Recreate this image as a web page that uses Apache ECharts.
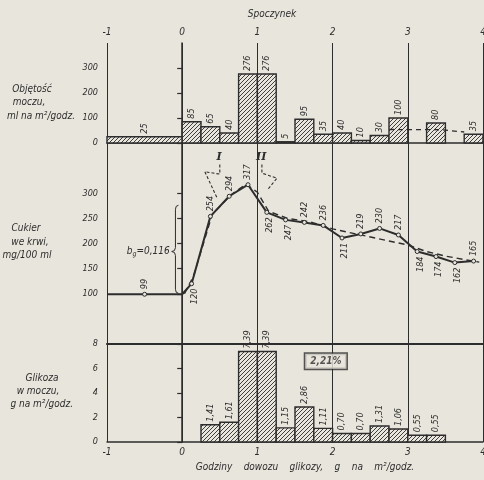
<!DOCTYPE html>
<html><head><meta charset="utf-8">
<script src="https://cdn.jsdelivr.net/npm/echarts@6/dist/echarts.min.js"></script>
<style>html,body{margin:0;padding:0;background:#e8e5dc;}#c{width:484px;height:480px;}</style>
</head><body><div id="c"></div>
<script>
// ---------------- data ----------------
const hourTicks = [-1, 0, 1, 2, 3, 4];
// urine volume, ml per m2 per hour (intervals in hours)
const urineStart = [-1, 0, 0.25, 0.5, 0.75, 1, 1.25, 1.5, 1.75, 2, 2.25, 2.5, 2.75, 3.25, 3.75];
const urineEnd   = [0, 0.25, 0.5, 0.75, 1, 1.25, 1.5, 1.75, 2, 2.25, 2.5, 2.75, 3, 3.5, 4];
const urineVolume = [25, 85, 65, 40, 276, 276, 5, 95, 35, 40, 10, 30, 100, 80, 35];
const urineMeanTimes = [2.75, 3.45, 3.75];
const urineMeanValues = [54, 53, 44];
const urineTicks = [0, 100, 200, 300];
// blood sugar, mg/100 ml
const sugarTimes  = [-1, -0.5, 0, 0.125, 0.375, 0.625, 0.875, 1.125, 1.375, 1.625, 1.875, 2.125, 2.375, 2.625, 2.875, 3.125, 3.375, 3.625, 3.875];
const sugarValues = [99, 99, 99, 120, 254, 294, 317, 262, 247, 242, 236, 211, 219, 230, 217, 184, 174, 162, 165];
const sugarMarked = [false, true, false, true, true, true, true, true, true, true, true, true, true, true, true, true, true, true, true];
const sugarLabelSide = [0, 1, 0, -1, 1, 1, 1, -1, -1, 1, 1, -1, 1, 1, 1, -1, -1, -1, 1];
const fitTimes  = [0.03, 0.15, 0.4, 0.65, 0.85, 1.0, 1.15, 1.4, 1.7, 2.0, 3.0, 3.25, 3.5, 3.75, 3.95];
const fitValues = [100, 135, 258, 297, 318, 302, 264, 250, 243, 229, 197, 184, 175, 168, 163];
const sugarTicks = [100, 150, 200, 250, 300];
// urine glucose, g per m2 per hour
const glucStart = [0.25, 0.5, 0.75, 1, 1.25, 1.5, 1.75, 2, 2.25, 2.5, 2.75, 3, 3.25];
const glucEnd   = [0.5, 0.75, 1, 1.25, 1.5, 1.75, 2, 2.25, 2.5, 2.75, 3, 3.25, 3.5];
const glucValues = [1.41, 1.61, 7.39, 7.39, 1.15, 2.86, 1.11, 0.70, 0.70, 1.31, 1.06, 0.55, 0.55];
const glucTicks = [0, 2, 4, 6, 8];
// annotations
const annoLabels = ['I', 'II'];
const annoLabelPos = [[0.49, 372], [1.05, 372]];
const arrowPaths = [
  [[0.5, 357], [0.5, 338], [0.3, 343], [0.46, 292]],
  [[1.06, 357], [1.06, 340], [1.26, 330], [1.13, 306]]
];
const braceX = -0.05, braceTipX = -0.14, braceLow = 101, braceHigh = 276, braceMid = 184;
const ratioLabel = '2,21%';
const ratioPos = [1.91, 6.6];

// ---------------- style ----------------
const ink = '#2d2d2d';
const bg = '#e8e5dc';
const FAM = "'Liberation Sans Narrow','DejaVu Sans Condensed','Liberation Sans',sans-serif";
const numFont = "italic 9px " + FAM;

const hc = document.createElement('canvas'); hc.width = 4; hc.height = 4;
const g = hc.getContext('2d');
g.fillStyle = bg; g.fillRect(0, 0, 4, 4);
g.strokeStyle = '#3f3f3f'; g.lineWidth = 1;
g.beginPath(); g.moveTo(0, 4); g.lineTo(4, 0); g.moveTo(-1, 1); g.lineTo(1, -1); g.moveTo(3, 5); g.lineTo(5, 3); g.stroke();
const hatch = {image: hc, repeat: 'repeat'};

function barRenderer(fmt) {
  return function (params, api) {
    const x0 = api.value(0), x1 = api.value(1), v = api.value(2);
    const p0 = api.coord([x0, v]), p1 = api.coord([x1, 0]);
    return {type: 'group', children: [
      {type: 'rect', shape: {x: p0[0], y: p0[1], width: p1[0] - p0[0], height: p1[1] - p0[1]},
        style: {fill: hatch, stroke: ink, lineWidth: 1.4}},
      {type: 'text', x: (p0[0] + p1[0]) / 2, y: p0[1] - 3, rotation: Math.PI / 2,
        style: {text: fmt(v), align: 'left', verticalAlign: 'middle', font: numFont, fill: ink}}
    ]};
  };
}

const urineData = urineVolume.map((v, i) => [urineStart[i], urineEnd[i], v]);
const glucData = glucValues.map((v, i) => [glucStart[i], glucEnd[i], v]);
const sugarLine = sugarTimes.map((t, i) => ({value: [t, sugarValues[i]], symbol: sugarMarked[i] ? 'circle' : 'none'}));
const sugarLabelData = sugarTimes.map((t, i) => [t, sugarValues[i], sugarLabelSide[i]]).filter(d => d[2] !== 0);
const fitLine = fitTimes.map((t, i) => [t, fitValues[i]]);
const meanLine = urineMeanTimes.map((t, i) => [t, urineMeanValues[i]]);

const xBase = {type: 'value', min: -1, max: 4, interval: 1,
  splitLine: {show: true, lineStyle: {color: ink, width: 1}},
  axisTick: {show: false}};
const lblStyle = {fontStyle: 'italic', fontFamily: FAM, fontSize: 10, color: ink};
const yBase = (gi, min, max, interval, ticks) => ({
  type: 'value', gridIndex: gi, min: min, max: max, interval: interval,
  axisLine: {show: true, lineStyle: {color: ink, width: 1.5}},
  axisTick: {show: true, length: 5, lineStyle: {color: ink, width: 1.2}, customValues: ticks},
  axisLabel: Object.assign({margin: 9, customValues: ticks,
    formatter: v => ticks.indexOf(v) >= 0 ? String(v) : ''}, lblStyle, {fontSize: 9}),
  splitLine: {show: false}
});
const gridBase = {left: 107, right: 1, containLabel: false, outerBoundsMode: 'none'};

const chart = echarts.init(document.getElementById('c'), null, {renderer: 'canvas'});
chart.setOption({
  backgroundColor: bg,
  animation: false,
  grid: [
    Object.assign({top: 43, height: 100}, gridBase),
    Object.assign({top: 143, height: 201}, gridBase),
    Object.assign({top: 344, height: 98}, gridBase)
  ],
  xAxis: [
    Object.assign({}, xBase, {gridIndex: 0, position: 'top',
      axisLine: {show: true, lineStyle: {color: ink, width: 1.5}},
      axisLabel: Object.assign({margin: 6}, lblStyle)}),
    Object.assign({}, xBase, {gridIndex: 1, position: 'top',
      axisLine: {show: true, lineStyle: {color: ink, width: 2.2}}, axisLabel: {show: false}}),
    Object.assign({}, xBase, {gridIndex: 2, position: 'bottom',
      axisLine: {show: true, lineStyle: {color: ink, width: 1.5}},
      axisLabel: Object.assign({margin: 5}, lblStyle)})
  ],
  yAxis: [
    yBase(0, 0, 400, 100, urineTicks),
    yBase(1, 0, 400, 50, sugarTicks),
    yBase(2, 0, 8, 2, glucTicks)
  ],
  series: [
    {type: 'custom', xAxisIndex: 0, yAxisIndex: 0, data: urineData, renderItem: barRenderer(v => String(v)), z: 3},
    {type: 'line', xAxisIndex: 0, yAxisIndex: 0, data: meanLine, symbol: 'none', z: 4,
      lineStyle: {color: ink, width: 1.3, type: [5, 4]}},
    {type: 'line', xAxisIndex: 1, yAxisIndex: 1, data: sugarLine, symbolSize: 4, z: 5,
      itemStyle: {color: bg, borderColor: ink, borderWidth: 1},
      lineStyle: {color: ink, width: 2}},
    {type: 'line', xAxisIndex: 1, yAxisIndex: 1, data: fitLine, symbol: 'none', z: 4,
      lineStyle: {color: ink, width: 1.4, type: [6, 4]}},
    {type: 'custom', xAxisIndex: 1, yAxisIndex: 1, data: sugarLabelData, z: 6,
      renderItem: function (params, api) {
        const p = api.coord([api.value(0), api.value(1)]);
        const side = api.value(2);
        return {type: 'text', x: p[0] + (side < 0 ? 3 : 0), y: p[1] - side * 5, rotation: Math.PI / 2,
          style: {text: String(api.value(1)), align: side > 0 ? 'left' : 'right', verticalAlign: 'middle', font: numFont, fill: ink}};
      }},
    {type: 'lines', coordinateSystem: 'cartesian2d', xAxisIndex: 1, yAxisIndex: 1, polyline: true, z: 6,
      data: arrowPaths.map(p => ({coords: p})),
      symbol: ['none', 'arrow'], symbolSize: 6,
      lineStyle: {color: ink, width: 1.1, type: [3, 2], opacity: 1}},
    {type: 'custom', xAxisIndex: 1, yAxisIndex: 1, data: annoLabelPos.map((p, i) => [p[0], p[1], i]), z: 6,
      renderItem: function (params, api) {
        const p = api.coord([api.value(0), api.value(1)]);
        return {type: 'text', x: p[0], y: p[1],
          style: {text: annoLabels[api.value(2)], align: 'center', verticalAlign: 'middle',
            font: "italic bold 11px 'DejaVu Serif','Liberation Serif',serif", fill: ink}};
      }},
    {type: 'custom', xAxisIndex: 1, yAxisIndex: 1, data: [[braceX, braceTipX, braceLow, braceMid, braceHigh]], z: 6,
      renderItem: function (params, api) {
        const R = api.coord([api.value(0), 0])[0];
        const T = api.coord([api.value(1), 0])[0];
        const yB = api.coord([0, api.value(2)])[1];
        const yM = api.coord([0, api.value(3)])[1];
        const yT = api.coord([0, api.value(4)])[1];
        const S = R - 3;
        const d = 'M' + R + ' ' + yT + ' Q' + S + ' ' + yT + ' ' + S + ' ' + (yT + 4) +
          ' L' + S + ' ' + (yM - 4) + ' Q' + S + ' ' + yM + ' ' + T + ' ' + yM +
          ' Q' + S + ' ' + yM + ' ' + S + ' ' + (yM + 4) +
          ' L' + S + ' ' + (yB - 4) + ' Q' + S + ' ' + yB + ' ' + R + ' ' + yB;
        return {type: 'group', children: [
          {type: 'path', shape: {pathData: d}, style: {fill: null, stroke: ink, lineWidth: 1}},
          {type: 'text', x: T - 2, y: yM,
            style: {text: '{a|b}{s|g}{a|=0,116}', align: 'right', verticalAlign: 'middle', fill: ink,
              rich: {a: {font: "italic 10px " + FAM, fill: ink}, s: {font: "italic 7px " + FAM, fill: ink, padding: [5, 0, 0, 0]}}}}
        ]};
      }},
    {type: 'custom', xAxisIndex: 2, yAxisIndex: 2, data: glucData, z: 3,
      renderItem: barRenderer(v => v.toFixed(2).replace('.', ','))},
    {type: 'scatter', xAxisIndex: 2, yAxisIndex: 2, data: [ratioPos], symbolSize: 0, z: 6,
      label: {show: true, position: 'inside', formatter: ratioLabel, fontStyle: 'italic', fontWeight: 'bold',
        fontFamily: FAM, fontSize: 10, color: ink, borderColor: ink, borderWidth: 1.5,
        padding: [3, 5, 2, 5], backgroundColor: bg}}
  ],
  graphic: [
    {type: 'text', x: 272, y: 14, style: {text: 'Spoczynek', font: "italic 10px " + FAM, fill: ink, align: 'center', verticalAlign: 'middle'}},
    {type: 'text', x: 32, y: 89, style: {text: 'Objętość', font: "italic 10px " + FAM, fill: ink, align: 'center', verticalAlign: 'middle'}},
    {type: 'text', x: 29, y: 102, style: {text: 'moczu,', font: "italic 10px " + FAM, fill: ink, align: 'center', verticalAlign: 'middle'}},
    {type: 'text', x: 75, y: 116, style: {text: 'ml na m²/godz.', font: "italic 10px " + FAM, fill: ink, align: 'right', verticalAlign: 'middle'}},
    {type: 'text', x: 26, y: 228, style: {text: 'Cukier', font: "italic 10px " + FAM, fill: ink, align: 'center', verticalAlign: 'middle'}},
    {type: 'text', x: 30, y: 242, style: {text: 'we krwi,', font: "italic 10px " + FAM, fill: ink, align: 'center', verticalAlign: 'middle'}},
    {type: 'text', x: 27, y: 255, style: {text: 'mg/100 ml', font: "italic 10px " + FAM, fill: ink, align: 'center', verticalAlign: 'middle'}},
    {type: 'text', x: 42, y: 378, style: {text: 'Glikoza', font: "italic 10px " + FAM, fill: ink, align: 'center', verticalAlign: 'middle'}},
    {type: 'text', x: 38, y: 391, style: {text: 'w moczu,', font: "italic 10px " + FAM, fill: ink, align: 'center', verticalAlign: 'middle'}},
    {type: 'text', x: 73, y: 404, style: {text: 'g na m²/godz.', font: "italic 10px " + FAM, fill: ink, align: 'right', verticalAlign: 'middle'}},
    {type: 'text', x: 305, y: 467, style: {text: 'Godziny    dowozu    glikozy,    g    na    m²/godz.', font: "italic 10px " + FAM, fill: ink, align: 'center', verticalAlign: 'middle'}}
  ]
});
</script></body></html>
